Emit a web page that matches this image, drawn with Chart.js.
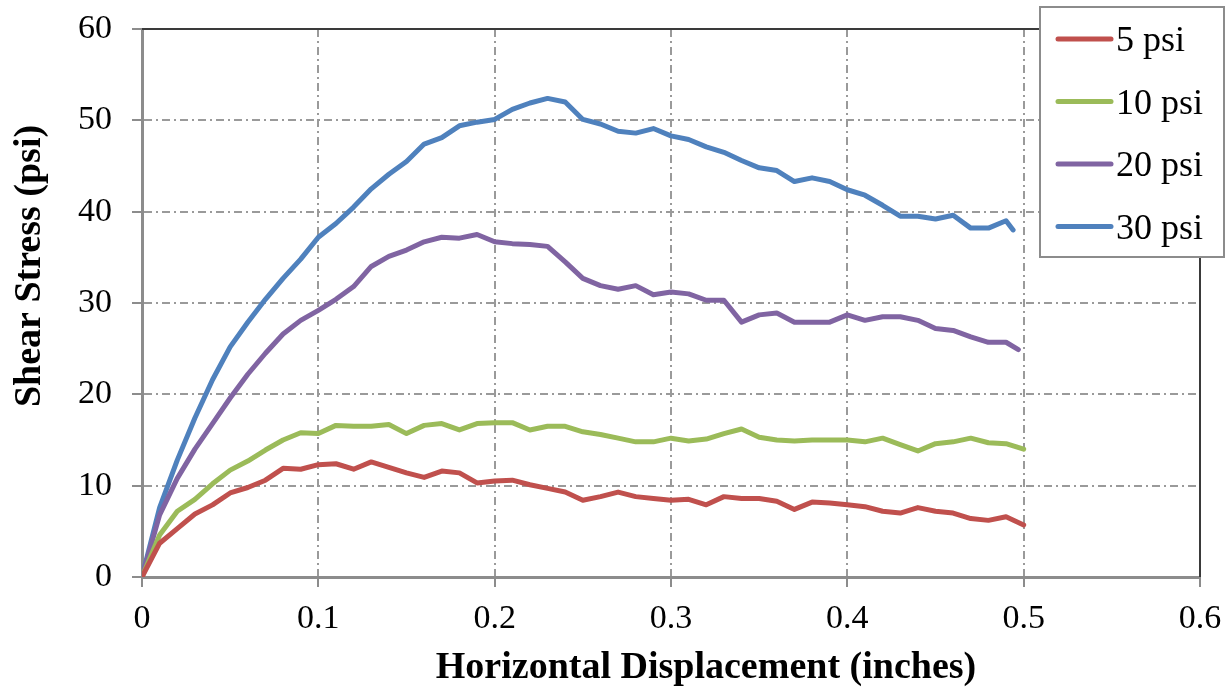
<!DOCTYPE html>
<html>
<head>
<meta charset="utf-8">
<title>Shear Stress vs Horizontal Displacement</title>
<script src="https://cdn.jsdelivr.net/npm/chart.js@4.4.1/dist/chart.umd.min.js"></script>
<style>
    html, body { margin: 0; padding: 0; background: #ffffff; }
    #wrap { width: 1230px; height: 689px; }
</style>
</head>
<body>
<div id="wrap"><canvas id="shearChart" width="1230" height="689"></canvas></div>
<script>
// --- DATA ---
// horizontal displacement readings (inches), shared by all four tests
const displacement = [
    0, 0.01, 0.02, 0.03, 0.04, 0.05, 0.06, 0.07, 0.08, 0.09,
    0.10, 0.11, 0.12, 0.13, 0.14, 0.15, 0.16, 0.17, 0.18, 0.19,
    0.20, 0.21, 0.22, 0.23, 0.24, 0.25, 0.26, 0.27, 0.28, 0.29,
    0.30, 0.31, 0.32, 0.33, 0.34, 0.35, 0.36, 0.37, 0.38, 0.39,
    0.40, 0.41, 0.42, 0.43, 0.44, 0.45, 0.46, 0.47, 0.48, 0.49
];
// final reading of each test
const lastDisplacement = [0.50, 0.50, 0.497, 0.494];

const seriesLabels = ['5 psi', '10 psi', '20 psi', '30 psi'];
const seriesColors = ['#C0504D', '#9BBB59', '#8064A2', '#4F81BD'];

// shear stress (psi) for each normal stress
const stress5 = [
    0, 3.7, 5.3, 6.9, 7.9, 9.2, 9.8, 10.6, 11.9, 11.8,
    12.3, 12.4, 11.8, 12.6, 12.0, 11.4, 10.9, 11.6, 11.4, 10.3,
    10.5, 10.6, 10.1, 9.7, 9.3, 8.4, 8.8, 9.3, 8.8, 8.6,
    8.4, 8.5, 7.9, 8.8, 8.6, 8.6, 8.3, 7.4, 8.2, 8.1,
    7.9, 7.7, 7.2, 7.0, 7.6, 7.2, 7.0, 6.4, 6.2, 6.6,
    5.7
];
const stress10 = [
    0, 4.6, 7.2, 8.5, 10.2, 11.7, 12.7, 13.9, 15.0, 15.8,
    15.7, 16.6, 16.5, 16.5, 16.7, 15.7, 16.6, 16.8, 16.1, 16.8,
    16.9, 16.9, 16.1, 16.5, 16.5, 15.9, 15.6, 15.2, 14.8, 14.8,
    15.2, 14.9, 15.1, 15.7, 16.2, 15.3, 15.0, 14.9, 15.0, 15.0,
    15.0, 14.8, 15.2, 14.5, 13.8, 14.6, 14.8, 15.2, 14.7, 14.6,
    14.0
];
const stress20 = [
    0, 6.8, 10.8, 14.0, 16.8, 19.6, 22.2, 24.5, 26.6, 28.1,
    29.2, 30.4, 31.8, 34.0, 35.1, 35.8, 36.7, 37.2, 37.1, 37.5,
    36.7, 36.5, 36.4, 36.2, 34.5, 32.7, 31.9, 31.5, 31.9, 30.9,
    31.2, 31.0, 30.3, 30.3, 27.9, 28.7, 28.9, 27.9, 27.9, 27.9,
    28.7, 28.1, 28.5, 28.5, 28.1, 27.2, 27.0, 26.3, 25.7, 25.7,
    24.9
];
const stress30 = [
    0, 7.6, 12.8, 17.4, 21.6, 25.2, 27.9, 30.4, 32.7, 34.8,
    37.2, 38.7, 40.5, 42.5, 44.1, 45.5, 47.4, 48.1, 49.4, 49.8,
    50.1, 51.2, 51.9, 52.4, 52.0, 50.1, 49.6, 48.8, 48.6, 49.1,
    48.3, 47.9, 47.1, 46.5, 45.6, 44.8, 44.5, 43.3, 43.7, 43.3,
    42.4, 41.8, 40.7, 39.5, 39.5, 39.2, 39.6, 38.2, 38.2, 39.0,
    38.0
];
const seriesValues = [stress5, stress10, stress20, stress30];

// axis ticks
const xTicks = [0, 0.1, 0.2, 0.3, 0.4, 0.5, 0.6];
const yTicks = [0, 10, 20, 30, 40, 50, 60];

const xTitle = 'Horizontal Displacement (inches)';
const yTitle = 'Shear Stress (psi)';

const SERIF = "'Liberation Serif', 'Times New Roman', serif";

// pair each stress reading with its displacement
function toPoints(values, idx) {
    return values.map((v, i) => ({
        x: i < displacement.length ? displacement[i] : lastDisplacement[idx],
        y: v
    }));
}

const datasets = seriesValues.map((vals, i) => ({
    label: seriesLabels[i],
    data: toPoints(vals, i),
    borderColor: seriesColors[i],
    backgroundColor: seriesColors[i],
    borderWidth: 5,
    borderJoinStyle: 'round',
    borderCapStyle: 'round',
    pointRadius: 0,
    tension: 0,
    fill: false
}));

// solid frame on the top and right of the plot
const plotFrame = {
    id: 'plotFrame',
    beforeDatasetsDraw(chart) {
        const { ctx, chartArea: a } = chart;
        ctx.save();
        ctx.strokeStyle = '#3a3a3a';
        ctx.lineWidth = 2;
        ctx.beginPath();
        ctx.moveTo(a.left, a.top);
        ctx.lineTo(a.right, a.top);
        ctx.lineTo(a.right, a.bottom);
        ctx.stroke();
        ctx.restore();
    }
};

// axis titles, placed where the layout wants them
const axisTitles = {
    id: 'axisTitles',
    afterDraw(chart) {
        const ctx = chart.ctx;
        ctx.save();
        ctx.fillStyle = '#000';
        ctx.font = 'bold 38px ' + SERIF;
        ctx.textAlign = 'center';
        ctx.textBaseline = 'alphabetic';
        ctx.fillText(xTitle, 706, 678);

        ctx.translate(40, 266);
        ctx.rotate(-Math.PI / 2);
        ctx.fillText(yTitle, 0, 0);
        ctx.restore();
    }
};

// boxed legend over the upper-right corner
const boxLegend = {
    id: 'boxLegend',
    afterDraw(chart) {
        const ctx = chart.ctx;
        const box = { x: 1040, y: 7, w: 184, h: 250 };
        const rows = [39, 101.5, 164, 226.5];
        ctx.save();
        ctx.fillStyle = '#ffffff';
        ctx.fillRect(box.x, box.y, box.w, box.h);
        ctx.strokeStyle = '#8c8c8c';
        ctx.lineWidth = 2;
        ctx.strokeRect(box.x, box.y, box.w, box.h);

        ctx.font = '36px ' + SERIF;
        ctx.textAlign = 'left';
        ctx.textBaseline = 'alphabetic';
        chart.data.datasets.forEach((ds, i) => {
            const y = rows[i];
            ctx.strokeStyle = ds.borderColor;
            ctx.lineWidth = 5;
            ctx.lineCap = 'round';
            ctx.beginPath();
            ctx.moveTo(1058, y);
            ctx.lineTo(1111, y);
            ctx.stroke();
            ctx.fillStyle = '#000';
            ctx.fillText(ds.label, 1116, y + 12);
        });
        ctx.restore();
    }
};

const gridDash = [8, 4, 2, 4];

new Chart(document.getElementById('shearChart'), {
    type: 'line',
    data: { datasets },
    plugins: [plotFrame, axisTitles, boxLegend],
    options: {
        responsive: false,
        animation: false,
        devicePixelRatio: 1,
        layout: { padding: { top: 29, right: 30, left: 0, bottom: 0 } },
        plugins: {
            legend: { display: false },
            tooltip: { enabled: false }
        },
        scales: {
            x: {
                type: 'linear',
                min: xTicks[0],
                max: xTicks[xTicks.length - 1],
                afterBuildTicks: scale => { scale.ticks = xTicks.map(v => ({ value: v })); },
                afterFit: scale => {
                    scale.height = 112;
                    scale.paddingLeft = 0;
                    scale.paddingRight = 0;
                },
                ticks: {
                    color: '#000',
                    padding: 12,
                    font: { family: SERIF, size: 34 },
                    callback: v => String(v)
                },
                grid: {
                    color: '#9a9a9a',
                    lineWidth: 2,
                    tickLength: 10,
                    tickColor: '#8c8c8c',
                    tickWidth: 2
                },
                border: { display: true, color: '#8c8c8c', width: 3, dash: gridDash }
            },
            y: {
                type: 'linear',
                min: yTicks[0],
                max: yTicks[yTicks.length - 1],
                afterBuildTicks: scale => { scale.ticks = yTicks.map(v => ({ value: v })); },
                afterFit: scale => {
                    scale.width = 142;
                    scale.paddingTop = 0;
                    scale.paddingBottom = 0;
                },
                ticks: {
                    color: '#000',
                    padding: 20,
                    font: { family: SERIF, size: 34 },
                    callback: v => String(v)
                },
                grid: {
                    color: '#9a9a9a',
                    lineWidth: 2,
                    tickLength: 10,
                    tickColor: '#8c8c8c',
                    tickWidth: 2
                },
                border: { display: true, color: '#8c8c8c', width: 3, dash: gridDash }
            }
        }
    }
});
</script>
</body>
</html>
